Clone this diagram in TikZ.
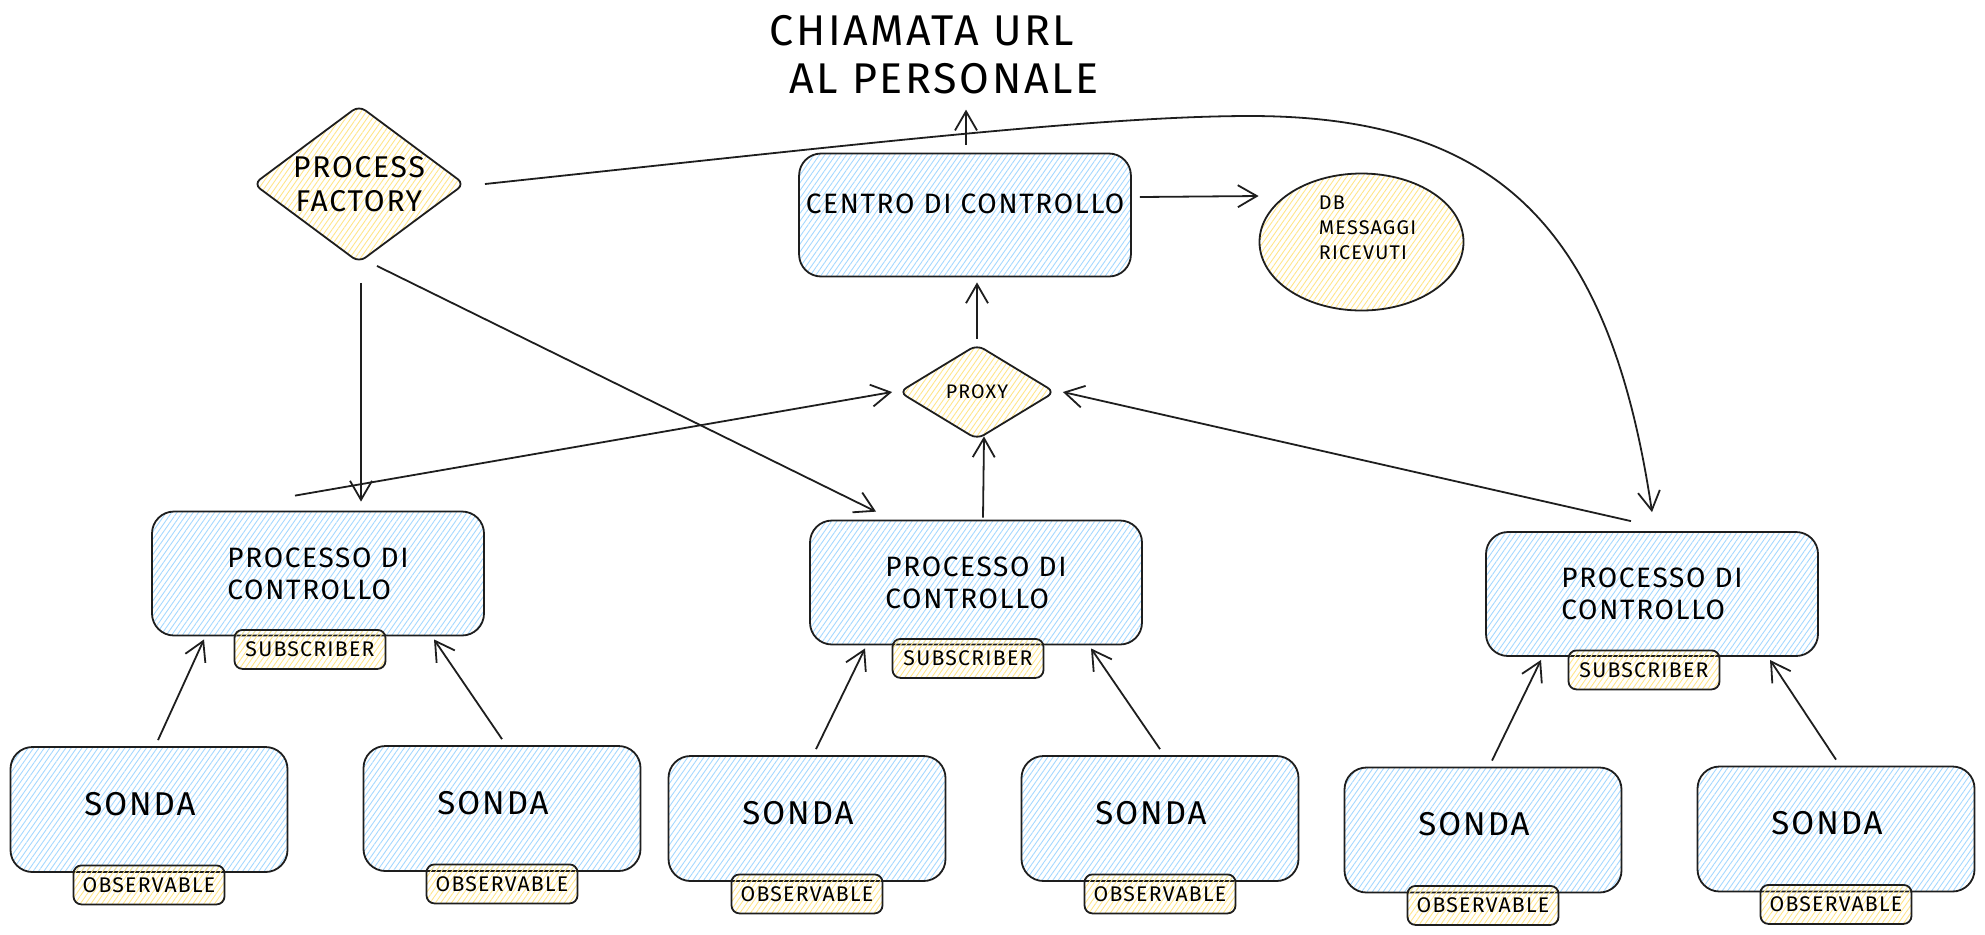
\documentclass[tikz,border=0pt]{standalone}
\usepackage{fontspec}
\setmainfont{Fira Sans}[LetterSpace=6]
\usepackage{tikz}
\usetikzlibrary{shapes.geometric, arrows.meta, patterns.meta, calc, positioning}
\definecolor{inkline}{HTML}{1E1E1E}
\definecolor{hatchblue}{HTML}{A5D8FF}
\definecolor{hatchyellow}{HTML}{FFE58A}
\tikzstyle{bluefill} = [pattern={Lines[angle=55, distance=2.2pt, line width=0.45pt]}, pattern color=hatchblue]
\tikzstyle{yellowfill} = [pattern={Lines[angle=55, distance=2.2pt, line width=0.45pt]}, pattern color=hatchyellow]
\tikzstyle{processbox} = [rectangle, draw=inkline, line width=0.9pt, rounded corners=11pt, bluefill, minimum width=166pt, minimum height=62pt, align=left, font=\fontsize{14}{16}\selectfont]
\tikzstyle{probebox} = [rectangle, draw=inkline, line width=0.9pt, rounded corners=11pt, bluefill, minimum width=138.5pt, minimum height=62.5pt, text depth=6pt, font=\fontsize{16.5}{19}\selectfont]
\tikzstyle{tagbox} = [rectangle, draw=inkline, line width=0.9pt, rounded corners=4pt, yellowfill, minimum width=75.5pt, minimum height=19.5pt, inner sep=0pt, font=\fontsize{10.6}{12}\selectfont]
\tikzstyle{decision} = [diamond, draw=inkline, line width=0.9pt, rounded corners=4pt, yellowfill, inner sep=0pt, align=center]
\tikzstyle{connector} = [draw=inkline, line width=0.9pt, -{Straight Barb[length=9.5pt, width=11pt]}]

\begin{document}
\begin{tikzpicture}[x=0.5pt, y=-0.5pt]
\useasboundingbox (0,0) rectangle (1985,934);

\node [align=left, font=\fontsize{21.5}{24}\selectfont] at (934,55) (titolo) {CHIAMATA URL\\ \hspace*{10pt}AL PERSONALE};

\node [decision, aspect=1.34, inner xsep=-8pt, inner ysep=-6pt, minimum width=105.5pt, minimum height=78.5pt, font=\fontsize{15}{17}\selectfont] at (359,184) (factory) {PROCESS\\FACTORY};
\node [processbox, minimum width=165pt, minimum height=61.5pt, text depth=11pt, font=\fontsize{14}{16}\selectfont] at (965,215) (centro) {CENTRO DI CONTROLLO};
\node [ellipse, draw=inkline, line width=0.9pt, yellowfill, minimum width=102pt, minimum height=68.5pt,
  label={[align=left, font=\fontsize{9.9}{12.5}\selectfont, xshift=3pt, yshift=7pt]center:DB\\MESSAGGI\\RICEVUTI}] at (1361.5,242) (db) {};
\node [decision, minimum width=78pt, minimum height=47.5pt, font=\fontsize{9.8}{11}\selectfont] at (977,392) (proxy) {PROXY};

% processi di controllo
\node [processbox] at (318,573.5) (proc1) {PROCESSO DI\\CONTROLLO};
\node [processbox] at (976,582.5) (proc2) {PROCESSO DI\\CONTROLLO};
\node [processbox] at (1652,594) (proc3) {PROCESSO DI\\CONTROLLO};

\node [tagbox] at ($(proc1.south)+(-8,13)$) (sub1) {SUBSCRIBER};
\node [tagbox] at ($(proc2.south)+(-8,13)$) (sub2) {SUBSCRIBER};
\node [tagbox] at ($(proc3.south)+(-8,13)$) (sub3) {SUBSCRIBER};

% sonde
\node [probebox] at (149,809.5) (sonda1) {SONDA\kern9pt};
\node [probebox] at (502,808.5) (sonda2) {SONDA\kern9pt};
\node [probebox] at (807,818.5) (sonda3) {SONDA\kern9pt};
\node [probebox] at (1160,818.5) (sonda4) {SONDA\kern9pt};
\node [probebox] at (1483,830) (sonda5) {SONDA\kern9pt};
\node [probebox] at (1836,829) (sonda6) {SONDA\kern9pt};

\node [tagbox] at ($(sonda1.south)+(0,12)$) (obs1) {OBSERVABLE};
\node [tagbox] at ($(sonda2.south)+(0,12)$) (obs2) {OBSERVABLE};
\node [tagbox] at ($(sonda3.south)+(0,12)$) (obs3) {OBSERVABLE};
\node [tagbox] at ($(sonda4.south)+(0,12)$) (obs4) {OBSERVABLE};
\node [tagbox] at ($(sonda5.south)+(0,12)$) (obs5) {OBSERVABLE};
\node [tagbox] at ($(sonda6.south)+(0,12)$) (obs6) {OBSERVABLE};

\path [connector] ($(centro.north)+(1,-8)$) -- ($(centro.north)+(1,-43)$);
\path [connector] ($(centro.east)+(8,-18)$) -- ($(db.west)+(0,-46)$);
\path [connector] ($(proxy.north)+(0,-5)$) -- ($(proxy.north |- centro.south)+(0,5)$);

\path [connector] ($(factory.south)+(2,20)$) -- ($(factory.south |- proc1.north)+(2,-9)$);
\path [connector] ($(factory.south)+(18,3)$) -- ($(proc2.north)+(-100,-8)$);
\path [connector] ($(factory.east)+(20,0)$) .. controls (850,145) and (1100,116) .. (1250,116)
  .. controls (1500,116) and (1610,230) .. ($(proc3.north)+(0,-19)$);

\path [connector] ($(proc1.north)+(-23,-15)$) -- ($(proxy.west)+(-6,0)$);
\path [connector] ($(proc2.north)+(7,-2)$) -- ($(proxy.south)+(7,-4)$);
\path [connector] ($(proc3.north)+(-21,-10)$) -- ($(proxy.east)+(7,0)$);

\path [connector] ($(sonda1.north)+(9,-6)$) -- ($(proc1.south)+(-114,3)$);
\path [connector] ($(sonda2.north)+(0,-6)$) -- ($(proc1.south)+(116,3)$);
\path [connector] ($(sonda3.north)+(9,-6)$) -- ($(proc2.south)+(-111,3)$);
\path [connector] ($(sonda4.north)+(0,-6)$) -- ($(proc2.south)+(115,3)$);
\path [connector] ($(sonda5.north)+(9,-6)$) -- ($(proc3.south)+(-111,3)$);
\path [connector] ($(sonda6.north)+(0,-6)$) -- ($(proc3.south)+(118,3)$);

\end{tikzpicture}
\end{document}
